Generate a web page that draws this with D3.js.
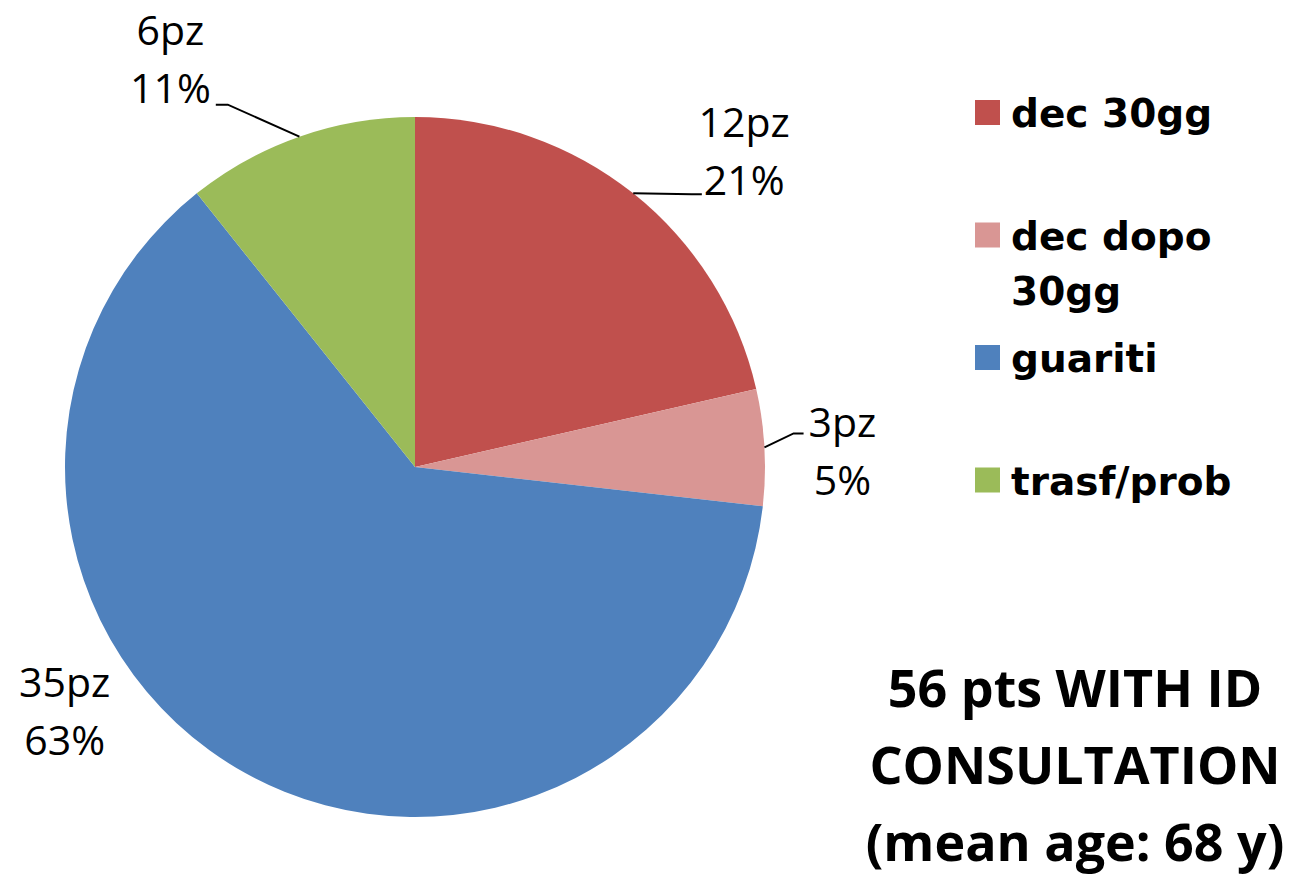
<!DOCTYPE html>
<html>
<head>
<meta charset="utf-8">
<script src="https://cdn.jsdelivr.net/npm/d3@7"></script>
<style>
  body { margin: 0; background: #fff; }
  svg { display: block; }
</style>
</head>
<body>
<script>
// Outcome categories and patient counts per category
const categories = ["dec 30gg", "dec dopo 30gg", "guariti", "trasf/prob"];
const patients = [12, 3, 35, 6];
const sliceColors = ["#C0504D", "#D99694", "#4F81BD", "#9BBB59"];
const unitSuffix = "pz";
const titleLines = ["56 pts WITH ID", "CONSULTATION", "(mean age: 68 y)"];

const W = 1302, H = 879;
const svg = d3.select("body").append("svg")
  .attr("width", W).attr("height", H)
  .style("background", "#fff");

// ---- pie ----
const cx = 415, cy = 467, R = 350;
const total = d3.sum(patients);
const slices = d3.pie().sort(null).value(d => d)(patients);
const arc = d3.arc().innerRadius(0).outerRadius(R);
const rim = d3.arc().innerRadius(R).outerRadius(R);

const pieG = svg.append("g").attr("transform", `translate(${cx},${cy})`);
pieG.selectAll("path.slice")
  .data(slices)
  .join("path")
  .attr("class", "slice")
  .attr("d", arc)
  .attr("fill", (d, i) => sliceColors[i]);

// ---- data labels ----
// Offsets of each label block (centre x, first baseline) from the rim point at the slice's mid-angle,
// plus how the leader line attaches to the block.
const labelLayout = [
  { dx: 111, dy: -56, leader: { side: "left",  line: 1, yOff: -1, elbow: 10, gap: 2 } },
  { dx: 78,  dy: -10, leader: { side: "left",  line: 0, yOff: -4, elbow: 10, gap: 5 } },
  { dx: -181, dy: -76, leader: null },
  { dx: -129, dy: -92, leader: { side: "right", line: 1, yOff: 2, elbow: 12, gap: 5 } }
];
const lineStep = 58;

const labelG = pieG.append("g").attr("class", "labels");
slices.forEach((d, i) => {
  const [rx, ry] = rim.centroid(d);
  const lay = labelLayout[i];
  const pct = Math.round(d.value / total * 100) + "%";
  const lines = [d.value + unitSuffix, pct];
  const tx = rx + lay.dx, ty = ry + lay.dy;
  const t = labelG.append("text")
    .attr("text-anchor", "middle")
    .attr("font-family", "'Open Sans', sans-serif")
    .attr("font-size", 41)
    .attr("fill", "#000");
  lines.forEach((s, k) => {
    t.append("tspan").attr("x", tx).attr("y", ty + k * lineStep).text(s);
  });
  if (lay.leader) {
    const L = lay.leader;
    const tsp = t.selectAll("tspan").nodes()[L.line];
    const bb = tsp.getBBox();
    const baseY = ty + L.line * lineStep + L.yOff;
    const endX = L.side === "left" ? bb.x - L.gap : bb.x + bb.width + L.gap;
    const elbowX = L.side === "left" ? endX - L.elbow : endX + L.elbow;
    labelG.append("path")
      .attr("d", d3.line()([[rx, ry], [elbowX, baseY], [endX, baseY]]))
      .attr("fill", "none")
      .attr("stroke", "#000")
      .attr("stroke-width", 2);
  }
});

// ---- legend ----
const legX = 975, legY = 100, legStep = 122.5, sw = 25, legLine = 55, wrapW = 260;
const legG = svg.append("g").attr("class", "legend");
categories.forEach((name, i) => {
  const y0 = legY + i * legStep;
  legG.append("rect")
    .attr("x", legX).attr("y", y0)
    .attr("width", sw).attr("height", sw)
    .attr("fill", sliceColors[i]);
  const t = legG.append("text")
    .attr("font-family", "'DejaVu Sans', sans-serif")
    .attr("font-weight", "bold")
    .attr("font-size", 39)
    .attr("fill", "#000");
  // wrap words into lines no wider than wrapW
  const words = name.split(" ");
  let line = [], k = 0;
  let ts = t.append("tspan").attr("x", legX + 36).attr("y", y0 + 27);
  words.forEach(w => {
    line.push(w);
    ts.text(line.join(" "));
    if (ts.node().getComputedTextLength() > wrapW && line.length > 1) {
      line.pop();
      ts.text(line.join(" "));
      line = [w];
      k++;
      ts = t.append("tspan").attr("x", legX + 36).attr("y", y0 + 27 + k * legLine).text(w);
    }
  });
});

// ---- caption ----
svg.append("text")
  .attr("text-anchor", "middle")
  .attr("font-family", "'Open Sans', sans-serif")
  .attr("font-weight", "bold")
  .attr("font-size", 52)
  .attr("fill", "#000")
  .selectAll("tspan")
  .data(titleLines)
  .join("tspan")
  .attr("x", 1075)
  .attr("y", (d, i) => 707 + i * 77)
  .text(d => d);
</script>
</body>
</html>
